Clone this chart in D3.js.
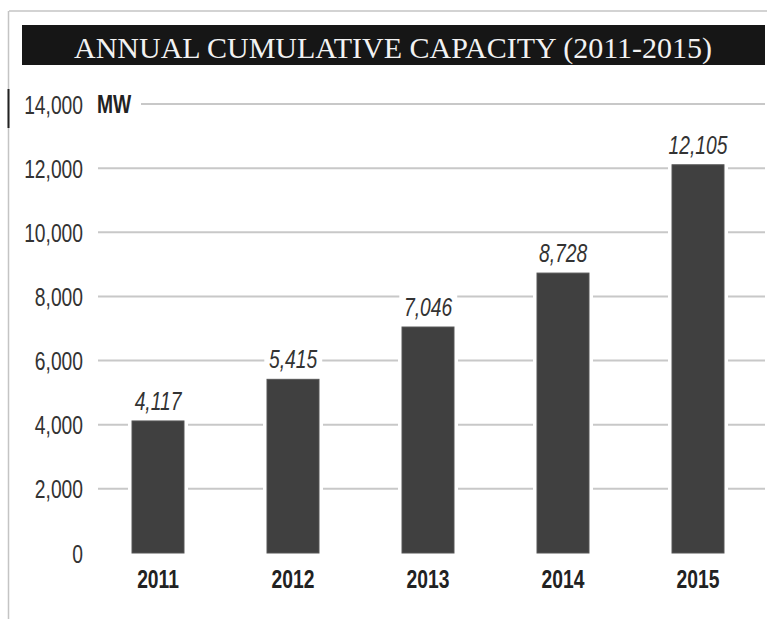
<!DOCTYPE html>
<html>
<head>
<meta charset="utf-8">
<script src="https://cdn.jsdelivr.net/npm/d3@7"></script>
<style>
  body { margin: 0; background: #fff; }
  svg { display: block; }
  .cond { font-family: "Liberation Sans", Arial, sans-serif; }
</style>
</head>
<body>
<script>
const years = ["2011", "2012", "2013", "2014", "2015"]
const capacity = [4117, 5415, 7046, 8728, 12105]
const yTicks = [0, 2000, 4000, 6000, 8000, 10000, 12000, 14000]
const title = "ANNUAL CUMULATIVE CAPACITY (2011-2015)"
const unit = "MW"

const W = 767, H = 619
const fmt = d3.format(",")
const squeeze = "scale(0.77,1)"   // fake a condensed face, none is installed

const svg = d3.select("body").append("svg")
  .attr("width", W)
  .attr("height", H)

// page frame bits (cropped page edges)
svg.append("line")
  .attr("x1", 9).attr("x2", W).attr("y1", 11).attr("y2", 11)
  .attr("stroke", "#c4c4c4").attr("stroke-width", 1.5)
svg.append("line")
  .attr("x1", 8.5).attr("x2", 8.5).attr("y1", 11).attr("y2", H)
  .attr("stroke", "#c4c4c4").attr("stroke-width", 1.5)
svg.append("line")
  .attr("x1", 8.5).attr("x2", 8.5).attr("y1", 89).attr("y2", 128)
  .attr("stroke", "#222").attr("stroke-width", 2)

// title bar
svg.append("rect")
  .attr("x", 22).attr("y", 25).attr("width", 743).attr("height", 40)
  .attr("fill", "#161616")
svg.append("text")
  .attr("x", 393).attr("y", 58)
  .attr("text-anchor", "middle")
  .attr("fill", "#f2f2f2")
  .attr("font-family", "Liberation Serif, DejaVu Serif, serif")
  .attr("font-size", 30)
  .text(title)

const x = d3.scaleBand()
  .domain(years)
  .range([90.5, 765.5])
  .paddingInner(0.615)
  .paddingOuter(0.3075)

const y = d3.scaleLinear()
  .domain([0, 14000])
  .range([553, 104])

// gridlines
const grid = svg.append("g")
grid.selectAll("line")
  .data(yTicks.filter(d => d > 0))
  .join("line")
  .attr("x1", d => d === 14000 ? 141 : 98)
  .attr("x2", 765)
  .attr("y1", d => y(d)).attr("y2", d => y(d))
  .attr("stroke", "#c8c8c8")
  .attr("stroke-width", 2)

// y axis labels
const yAxis = svg.append("g")
  .attr("transform", "translate(83,0)")
  .call(d3.axisLeft(y).tickValues(yTicks).tickSize(0).tickPadding(0).tickFormat(fmt))
yAxis.select(".domain").remove()
yAxis.selectAll("text")
  .attr("class", "cond")
  .attr("font-size", 25)
  .attr("fill", "#333")
  .attr("dy", "0.36em")
  .attr("transform", squeeze)

svg.append("g")
  .attr("transform", `translate(97,${y(14000)}) ${squeeze}`)
  .append("text")
  .attr("class", "cond")
  .attr("dy", "0.36em")
  .attr("font-size", 25)
  .attr("font-weight", "bold")
  .attr("fill", "#222")
  .text(unit)

// bars, with white knock-out around them
const data = years.map((yr, i) => ({ year: yr, value: capacity[i] }))
const bars = svg.append("g")
bars.selectAll("rect.knock")
  .data(data)
  .join("rect")
  .attr("class", "knock")
  .attr("x", d => x(d.year) - 4)
  .attr("width", x.bandwidth() + 8)
  .attr("y", d => y(d.value) - 1)
  .attr("height", d => y(0) - y(d.value) + 1)
  .attr("fill", "#fff")
bars.selectAll("rect.bar")
  .data(data)
  .join("rect")
  .attr("class", "bar")
  .attr("x", d => x(d.year))
  .attr("width", x.bandwidth())
  .attr("y", d => y(d.value))
  .attr("height", d => y(0) - y(d.value))
  .attr("fill", "#404040")
  .attr("stroke", "#555")
  .attr("stroke-width", 1)

// value labels with white background
const labels = svg.append("g")
const lbl = labels.selectAll("g")
  .data(data)
  .join("g")
  .attr("transform", d => `translate(${x(d.year) + x.bandwidth() / 2},${y(d.value) - 11}) ${squeeze}`)
lbl.append("text")
  .attr("class", "cond")
  .attr("text-anchor", "middle")
  .attr("font-size", 25)
  .attr("font-style", "italic")
  .attr("fill", "#333")
  .text(d => fmt(d.value))
lbl.each(function() {
  const g = d3.select(this)
  const bb = g.select("text").node().getBBox()
  g.insert("rect", "text")
    .attr("x", bb.x - 6).attr("y", bb.y)
    .attr("width", bb.width + 12).attr("height", bb.height + 4)
    .attr("fill", "#fff")
})

// x labels
svg.append("g")
  .selectAll("g")
  .data(years)
  .join("g")
  .attr("transform", d => `translate(${x(d) + x.bandwidth() / 2},588) ${squeeze}`)
  .append("text")
  .attr("class", "cond")
  .attr("text-anchor", "middle")
  .attr("font-size", 25)
  .attr("font-weight", "bold")
  .attr("fill", "#222")
  .text(d => d)
</script>
</body>
</html>
